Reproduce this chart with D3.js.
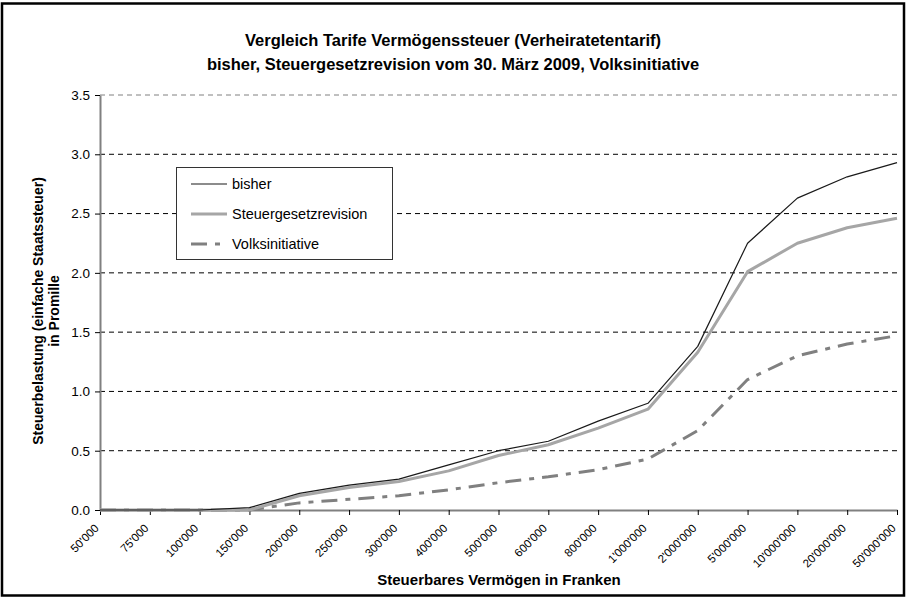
<!DOCTYPE html>
<html>
<head>
<meta charset="utf-8">
<script src="https://cdn.jsdelivr.net/npm/d3@7"></script>
<style>
  body { margin: 0; background: #fff; }
  svg { display: block; font-family: "Liberation Sans", Arial, sans-serif; }
</style>
</head>
<body>
<svg id="chart" width="907" height="599"></svg>
<script>
// Steuerbares Vermoegen (Kategorien) und Steuerbelastung in Promille
const categories = ["50'000", "75'000", "100'000", "150'000", "200'000", "250'000", "300'000", "400'000",
  "500'000", "600'000", "800'000", "1'000'000", "2'000'000", "5'000'000", "10'000'000", "20'000'000", "50'000'000"]
const bisher = [0, 0, 0, 0.02, 0.14, 0.21, 0.26, 0.38, 0.50, 0.58, 0.75, 0.90, 1.38, 2.25, 2.63, 2.81, 2.93]
const revision = [0, 0, 0, 0, 0.12, 0.19, 0.24, 0.33, 0.46, 0.55, 0.69, 0.85, 1.33, 2.01, 2.25, 2.38, 2.46]
const initiative = [0, 0, 0, 0, 0.06, 0.09, 0.12, 0.17, 0.23, 0.28, 0.34, 0.43, 0.67, 1.10, 1.30, 1.40, 1.47]
const yTicks = [0, 0.5, 1.0, 1.5, 2.0, 2.5, 3.0, 3.5]
const seriesNames = ["bisher", "Steuergesetzrevision", "Volksinitiative"]

let series = [
  { name: seriesNames[0], values: bisher, color: "#1a1a1a", width: 1.2, dash: null },
  { name: seriesNames[1], values: revision, color: "#a6a6a6", width: 3, dash: null },
  { name: seriesNames[2], values: initiative, color: "#808080", width: 3, dash: "16,8,5,8" }
]

let svg = d3.select("#chart")

let x = d3.scalePoint().domain(categories).range([100, 897])
let y = d3.scaleLinear().domain([0, 3.5]).range([510, 95])

// rahmen
svg.append("rect")
  .attr("x", 2).attr("y", 3.5)
  .attr("width", 902).attr("height", 592)
  .attr("fill", "none")
  .attr("stroke", "#000")
  .attr("stroke-width", 2.5)

// titel
svg.append("text")
  .attr("x", 453).attr("y", 46)
  .attr("text-anchor", "middle")
  .attr("font-size", 16.5).attr("font-weight", "bold")
  .text("Vergleich Tarife Vermögenssteuer (Verheiratetentarif)")
svg.append("text")
  .attr("x", 453).attr("y", 70)
  .attr("text-anchor", "middle")
  .attr("font-size", 16.5).attr("font-weight", "bold")
  .text("bisher, Steuergesetzrevision vom 30. März 2009, Volksinitiative")

// gitter
svg.append("g")
  .selectAll("line")
  .data(yTicks.filter(d => d > 0))
  .join("line")
  .attr("x1", 100).attr("x2", 897)
  .attr("y1", d => y(d)).attr("y2", d => y(d))
  .attr("stroke", d => d === 3.5 ? "#808080" : "#000")
  .attr("stroke-width", 1)
  .attr("stroke-dasharray", "5,4")

// y achse
let axisL = d3.axisLeft(y)
  .tickValues(yTicks)
  .tickFormat(d3.format(".1f"))
  .tickSizeInner(5)
  .tickSizeOuter(0)
  .tickPadding(5)

let gy = svg.append("g")
  .attr("transform", "translate(100,0)")
  .call(axisL)
gy.select(".domain").attr("stroke", "#808080").attr("stroke-width", 2)
gy.selectAll(".tick line").attr("stroke", "#000")
gy.selectAll(".tick text")
  .attr("font-size", 13.5)
  .attr("font-family", "Liberation Sans, Arial, sans-serif")
  .attr("fill", "#000")

// x achse
let axisB = d3.axisBottom(x)
  .tickSizeInner(5)
  .tickSizeOuter(0)
  .tickPadding(6)

let gx = svg.append("g")
  .attr("transform", "translate(0,510)")
  .call(axisB)
gx.select(".domain").attr("stroke", "#808080").attr("stroke-width", 2)
gx.selectAll(".tick line").attr("stroke", "#000")
gx.selectAll(".tick text")
  .attr("font-size", 11.5)
  .attr("font-family", "Liberation Sans, Arial, sans-serif")
  .attr("fill", "#000")
  .attr("text-anchor", "end")
  .attr("dy", null)
  .attr("y", 0)
  .attr("transform", "translate(-1,19) rotate(-45)")

// achsentitel
svg.append("text")
  .attr("x", 499).attr("y", 585)
  .attr("text-anchor", "middle")
  .attr("font-size", 15).attr("font-weight", "bold")
  .text("Steuerbares Vermögen in Franken")

let yTitle = svg.append("text")
  .attr("transform", "translate(43,311) rotate(-90)")
  .attr("text-anchor", "middle")
  .attr("font-size", 14).attr("font-weight", "bold")
yTitle.append("tspan").attr("x", 0).attr("y", 0).text("Steuerbelastung (einfache Staatssteuer)")
yTitle.append("tspan").attr("x", 0).attr("y", 16).text("in Promille")

// linien
let line = d3.line()
  .x((d, i) => x(categories[i]))
  .y(d => y(d))

svg.append("g")
  .selectAll("path")
  .data(series.slice().reverse())
  .join("path")
  .attr("d", d => line(d.values))
  .attr("fill", "none")
  .attr("stroke", d => d.color)
  .attr("stroke-width", d => d.width)
  .attr("stroke-dasharray", d => d.dash)
  .attr("stroke-linejoin", "round")

// legende
let legend = svg.append("g")
legend.append("rect")
  .attr("x", 176.5).attr("y", 167.5)
  .attr("width", 216).attr("height", 92)
  .attr("fill", "#fff")
  .attr("stroke", "#333")
  .attr("stroke-width", 1)

let items = legend.selectAll("g.item")
  .data(series)
  .join("g")
  .attr("class", "item")
  .attr("transform", (d, i) => `translate(0,${184 + i * 30})`)

items.append("line")
  .attr("x1", 191).attr("x2", 227)
  .attr("stroke", d => d.color)
  .attr("stroke-width", d => d.width)
  .attr("stroke-dasharray", d => d.dash)

items.append("text")
  .attr("x", 232).attr("y", 5)
  .attr("font-size", 14.5)
  .text(d => d.name)
</script>
</body>
</html>
